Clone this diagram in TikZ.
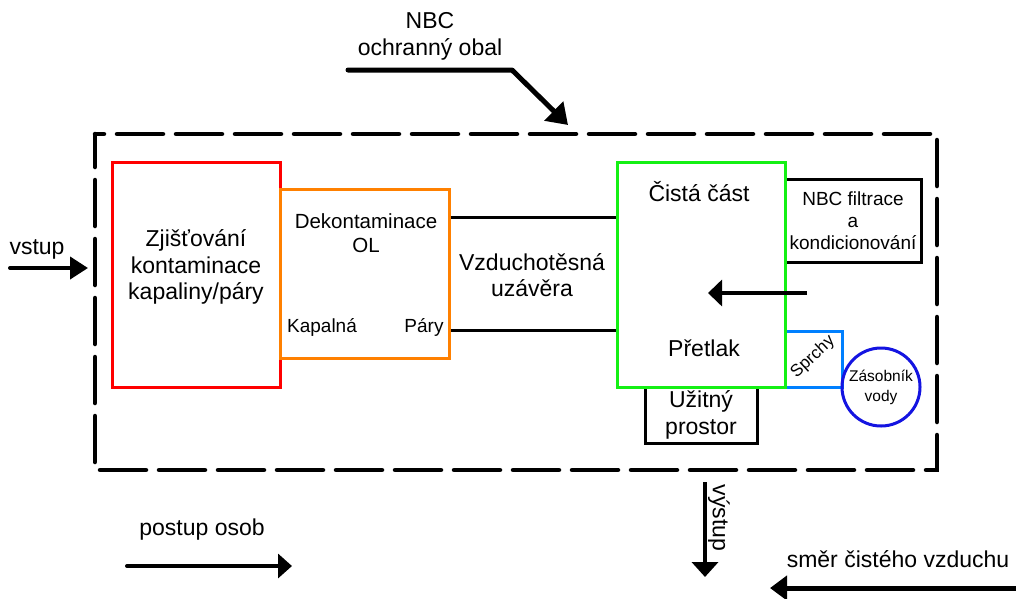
\documentclass[tikz,border=0pt]{standalone}
\usepackage{fontspec}
\setmainfont{Liberation Sans}
\usetikzlibrary{arrows.meta}
\definecolor{cred}{RGB}{255,0,0}
\definecolor{corange}{RGB}{255,128,0}
\definecolor{cgreen}{RGB}{20,240,20}
\definecolor{clblue}{RGB}{0,128,255}
\definecolor{cdblue}{RGB}{20,20,225}
\begin{document}
\begin{tikzpicture}[x=1pt,y=-1pt,
  box/.style={draw, line width=3pt, inner sep=0pt, align=center},
  big/.style={font=\fontsize{23}{26.5}\selectfont, inner sep=0pt, align=center},
  mid/.style={font=\fontsize{19}{22}\selectfont, inner sep=0pt, align=center},
  small/.style={font=\fontsize{15.5}{20}\selectfont, inner sep=0pt, align=center},
  flow/.style={line width=4pt, -{Triangle[length=16pt,width=24pt]}},
  conn/.style={line width=3pt}
]
\useasboundingbox (0,0) rectangle (1016,598);
% envelope
\draw[line width=4.5pt, line cap=round, dash pattern=on 46pt off 13pt, dash phase=13pt]
  (95,134) rectangle (937,470);
% boxes
\node[box, draw=black, minimum width=136pt, minimum height=83pt, mid] (filtr) at (853,220.5)
  {NBC filtrace\\a\\kondicionování};
\node[box, draw=black, minimum width=112pt, minimum height=56pt, big] (uzit) at (701,415)
  {Užitný\\prostor};
\node[box, draw=clblue, minimum width=57pt, minimum height=56pt] (sprchy) at (813.5,359) {};
\node[box, draw=cred, minimum width=168pt, minimum height=225pt] (red) at (196,274.5) {};
\node[box, draw=corange, minimum width=169pt, minimum height=169pt] (orange) at (364.5,273.5) {};
\node[box, draw=cgreen, minimum width=168pt, minimum height=225pt] (green) at (701,274.5) {};
\node[draw=cdblue, circle, line width=3pt, minimum size=78pt, inner sep=0pt, small] (zas) at (881,387)
  {Zásobník\\vody};
% texts
\node[big] (tzj) at (196,267) {Zjišťování\\kontaminace\\kapaliny/páry};
\node[font=\fontsize{20.5}{24}\selectfont, inner sep=0pt, align=center] (tdek) at (366,233) {Dekontaminace\\OL};
\node[mid] (tkap) at (322,327) {Kapalná};
\node[mid] (tpar) at (424,327) {Páry};
\node[big] (tvzd) at (532,275) {Vzduchotěsná\\uzávěra};
\node[big] (tcis) at (699,192) {Čistá část};
\node[big] (tpre) at (704,348) {Přetlak};
\node[font=\fontsize{17}{20}\selectfont, inner sep=0pt, rotate=43] (tspr) at (813,357) {Sprchy};
\node[big] (tnbc) at (430,36.5) {NBC\\ochranný obal};
\node[big] (tvst) at (37,249) {vstup};
\node[big, rotate=-90] (tvys) at (719,518) {výstup};
\node[big] (tpos) at (202,530) {postup osob};
\node[big] (tsme) at (898,559) {směr čistého vzduchu};
% connectors between lock parts
\draw[conn] ([yshift=56.5pt]orange.east) -- ([yshift=57.5pt]green.west);
\draw[conn] ([yshift=-56.5pt]orange.east) -- ([yshift=-55.5pt]green.west);
% arrows
\coordinate (nbcA) at (348,70);
\coordinate (nbcB) at (512,70);
\coordinate (nbcC) at (568,125);
\draw[line width=5pt, line join=round, line cap=round, -{Triangle[length=20pt,width=26pt]}]
  (nbcA) -- (nbcB) -- (nbcC);
\coordinate (vstA) at (10,268);
\coordinate (vstB) at (88,268);
\draw[flow, line cap=round, -{Triangle[length=18pt,width=22pt]}] (vstA) -- (vstB);
\coordinate (airA) at (807,293);
\coordinate (airB) at (708,293);
\draw[line width=3.5pt, -{Triangle[length=14pt,width=26pt]}] (airA) -- (airB);
\coordinate (vysA) at (705,482);
\coordinate (vysB) at (705,577);
\draw[flow, -{Triangle[length=15pt,width=26pt]}] (vysA) -- (vysB);
\coordinate (posA) at (127,566);
\coordinate (posB) at (292,566);
\draw[flow, line cap=round, -{Triangle[length=14pt,width=24pt]}] (posA) -- (posB);
\coordinate (smeA) at (1016,588);
\coordinate (smeB) at (770,588);
\draw[line width=5pt, -{Triangle[length=17pt,width=24pt]}] (smeA) -- (smeB);
\end{tikzpicture}
\end{document}
